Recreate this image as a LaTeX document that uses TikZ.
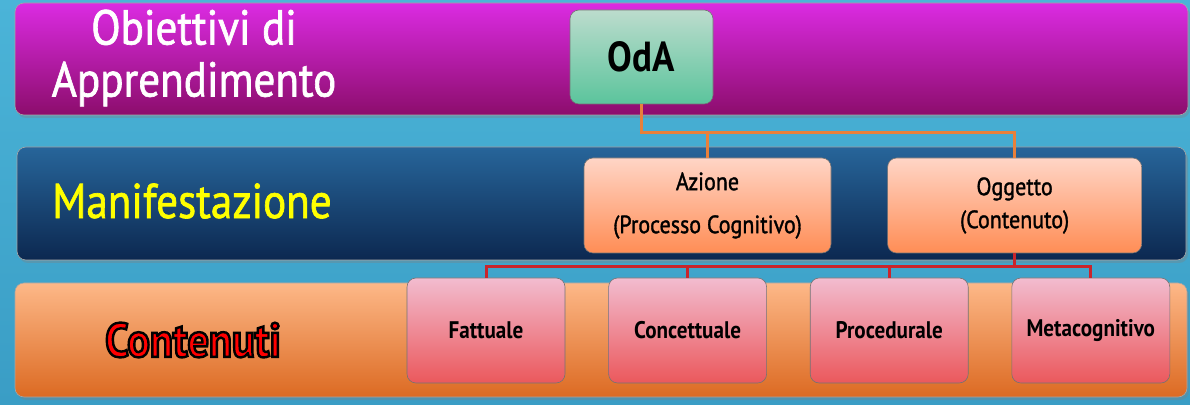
\documentclass[tikz,border=0pt]{standalone}
\usepackage{fontspec}
\setmainfont{PT Sans}[FakeStretch=0.88]
\newfontfamily\medfont{PT Sans}[FakeStretch=0.88, FakeBold=1.3]
\usetikzlibrary{positioning,shadows}
\definecolor{skyback}{HTML}{4BB4D8}
\definecolor{skyback2}{HTML}{3A9DC5}
\definecolor{purpletop}{HTML}{DB2BE2}
\definecolor{purplebot}{HTML}{8C0D6C}
\definecolor{navytop}{HTML}{27659A}
\definecolor{navybot}{HTML}{0C2850}
\definecolor{peachtop}{HTML}{FDB888}
\definecolor{peachbot}{HTML}{DC6A22}
\definecolor{minttop}{HTML}{BCDCCD}
\definecolor{mintbot}{HTML}{5BC49C}
\definecolor{salmontop}{HTML}{FFD5C6}
\definecolor{salmonbot}{HTML}{FF8D55}
\definecolor{rosetop}{HTML}{F2BCCF}
\definecolor{rosebot}{HTML}{EB585C}
\definecolor{linkorange}{HTML}{E8803A}
\definecolor{linkred}{HTML}{C9252C}
\definecolor{titleyellow}{HTML}{FFFF00}
% red letters with a black rim
\newcommand\rimmed[1]{\special{pdf:literal direct 2 Tr 2.4 w 0 0 0 RG}#1\special{pdf:literal direct 0 Tr}}

\begin{document}
\begin{tikzpicture}[x=1pt, y=1pt, node distance=43pt,
  band/.style={rounded corners=9pt, draw=black!35, line width=0.6pt, drop shadow={opacity=0.35, shadow xshift=2pt, shadow yshift=-3pt}},
  box/.style={rounded corners=9pt, draw=black!55, line width=0.6pt, minimum height=95pt, align=center, font=\fontsize{25}{33}\medfont},
  leaf/.style={rounded corners=9pt, draw=black!55, line width=0.6pt, top color=rosetop, bottom color=rosebot, minimum width=158pt, minimum height=105pt, font=\fontsize{24}{28}\selectfont\bfseries},
  link/.style={line width=3pt}]
\useasboundingbox (0,0) rectangle (1190,404);
\fill[top color=skyback, bottom color=skyback2] (0,0) rectangle (1190,404);

% the three levels
\path[band, top color=purpletop, bottom color=purplebot] (15,289) rectangle (1188,401);
\path[band, top color=navytop, bottom color=navybot] (17,144) rectangle (1186,257);
\path[band, top color=peachtop, bottom color=peachbot] (15,7) rectangle (1187,121);

\node[text=white, align=center, font=\fontsize{49}{52}\medfont] (objtitle) at (194,346) {Obiettivi di\\Apprendimento};
\node[text=titleyellow, font=\fontsize{49}{52}\medfont] (maniftitle) at (192,203) {Manifestazione};
\node[text=red, font=\fontsize{48}{52}\selectfont\bfseries] (conttitle) at (193,64) {\rimmed{Contenuti}};

\node[box, top color=minttop, bottom color=mintbot, minimum width=143pt, minimum height=94pt, font=\fontsize{42}{44}\selectfont\bfseries] (oda) at (641.5,347) {OdA};
\node[box, top color=salmontop, bottom color=salmonbot, minimum width=247pt] (azione) at (707.5,198.5) {Azione\\[10pt](Processo Cognitivo)};
\node[box, top color=salmontop, bottom color=salmonbot, minimum width=254pt, right=56pt of azione] (oggetto) {Oggetto\\(Contenuto)};

\node[leaf] (fattuale) at (486,73.5) {Fattuale};
\node[leaf, right=of fattuale] (concettuale) {Concettuale};
\node[leaf, right=of concettuale] (procedurale) {Procedurale};
\node[leaf, right=of procedurale] (metacognitivo) {Metacognitivo};

\draw[link, linkorange] (azione.north) |- ([yshift=-28pt]oda.south) -- (oda.south);
\draw[link, linkorange] (oggetto.north) |- ([yshift=-28pt]oda.south);
\foreach \leafname in {fattuale,concettuale,procedurale,metacognitivo}
  \draw[link, linkred] (\leafname.north) |- ([yshift=-13pt]oggetto.south) -- (oggetto.south);
\end{tikzpicture}
\end{document}
